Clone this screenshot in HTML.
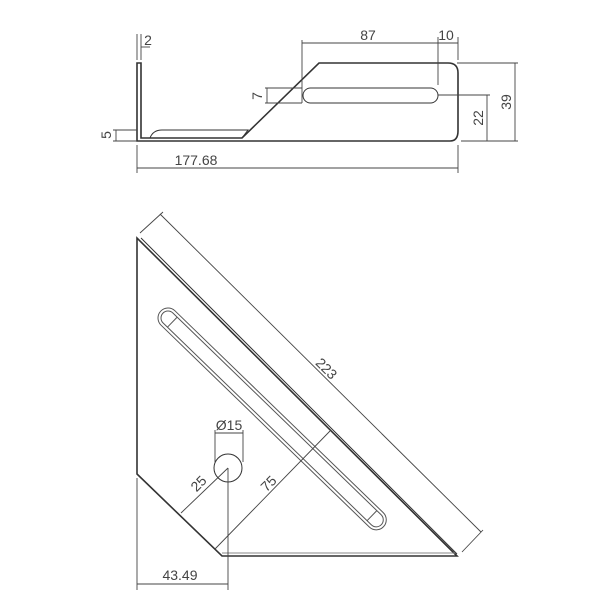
<!DOCTYPE html>
<html><head><meta charset="utf-8"><style>
html,body{margin:0;padding:0;background:#fff;}
svg{display:block;}
text{font-family:"Liberation Sans",sans-serif;font-size:14px;fill:#444;}
</style></head><body>
<svg width="600" height="600" viewBox="0 0 600 600" xmlns="http://www.w3.org/2000/svg">
<g fill="none" stroke="#333" stroke-width="1">
<path d="M137,63 L137,141 L450,141 Q458,141 458,131 L458,73 Q458,63 448,63 L319,63 L242,138 L141,138 L141,63 Z" stroke-width="1.6"/>
<path d="M150,138 Q153,130 162,130 L248,130 L242,138"/>
<rect x="303" y="88" width="135" height="15" rx="7.5"/>
<g stroke="#444" stroke-width="0.9">
<line x1="302" y1="40" x2="302" y2="103"/>
<line x1="438" y1="37" x2="438" y2="85"/>
<line x1="458" y1="37" x2="458" y2="60"/>
<line x1="302" y1="43" x2="458" y2="43"/>
<line x1="265" y1="88" x2="302" y2="88"/>
<line x1="265" y1="103" x2="302" y2="103"/>
<line x1="267" y1="88" x2="267" y2="103"/>
<line x1="438" y1="95" x2="490" y2="95"/>
<line x1="487" y1="95" x2="487" y2="141"/>
<line x1="461" y1="141" x2="518" y2="141"/>
<line x1="457" y1="63" x2="518" y2="63"/>
<line x1="515" y1="63" x2="515" y2="141"/>
<line x1="113" y1="130" x2="137" y2="130"/>
<line x1="113" y1="141" x2="137" y2="141"/>
<line x1="116" y1="130" x2="116" y2="141"/>
<line x1="137" y1="34" x2="137" y2="60"/>
<line x1="141" y1="34" x2="141" y2="60"/>
<line x1="141" y1="47" x2="150" y2="47"/>
<line x1="137" y1="145" x2="137" y2="173"/>
<line x1="458" y1="145" x2="458" y2="173"/>
<line x1="137" y1="168" x2="458" y2="168"/>
</g>
<path d="M137,238 L137,474 L222,556 L457,556 Z" stroke-width="1.6"/>
<line x1="141" y1="238" x2="457" y2="554"/>
<line x1="222" y1="553" x2="455" y2="553" stroke="#888"/>
<g transform="translate(168,318) rotate(44.1)" stroke="#555">
<rect x="-10" y="-10" width="310" height="20" rx="10"/>
<rect x="-7" y="-7" width="304" height="14" rx="7"/>
<line x1="6" y1="-7" x2="6" y2="7"/>
<line x1="284" y1="-7" x2="284" y2="7"/>
</g>
<circle cx="228" cy="468" r="14"/>
<g stroke="#444" stroke-width="0.9">
<line x1="140" y1="233" x2="163" y2="212"/>
<line x1="462" y1="552" x2="483" y2="530"/>
<line x1="160" y1="214" x2="481" y2="532"/>
<line x1="215" y1="430" x2="215" y2="462"/>
<line x1="243" y1="430" x2="243" y2="462"/>
<line x1="215" y1="433" x2="243" y2="433"/>
<line x1="228" y1="468" x2="228" y2="590"/>
<line x1="137" y1="478" x2="137" y2="590"/>
<line x1="137" y1="584" x2="228" y2="584"/>
<line x1="228" y1="468" x2="181" y2="513"/>
<line x1="215" y1="549" x2="330" y2="431"/>
</g>
</g>
<text x="368" y="40" text-anchor="middle">87</text>
<text x="446" y="40" text-anchor="middle">10</text>
<text x="148" y="45" text-anchor="middle">2</text>
<text x="196" y="165" text-anchor="middle">177.68</text>
<text transform="translate(262,96) rotate(-90)" text-anchor="middle">7</text>
<text transform="translate(483,118) rotate(-90)" text-anchor="middle">22</text>
<text transform="translate(511,102) rotate(-90)" text-anchor="middle">39</text>
<text transform="translate(111,135) rotate(-90)" text-anchor="middle">5</text>
<text transform="translate(323,372) rotate(45)" text-anchor="middle">223</text>
<text x="229" y="430" text-anchor="middle">Ø15</text>
<text transform="translate(202,487) rotate(-45)" text-anchor="middle">25</text>
<text transform="translate(272,487) rotate(-45)" text-anchor="middle">75</text>
<text x="180" y="580" text-anchor="middle">43.49</text>
</svg>
</body></html>
